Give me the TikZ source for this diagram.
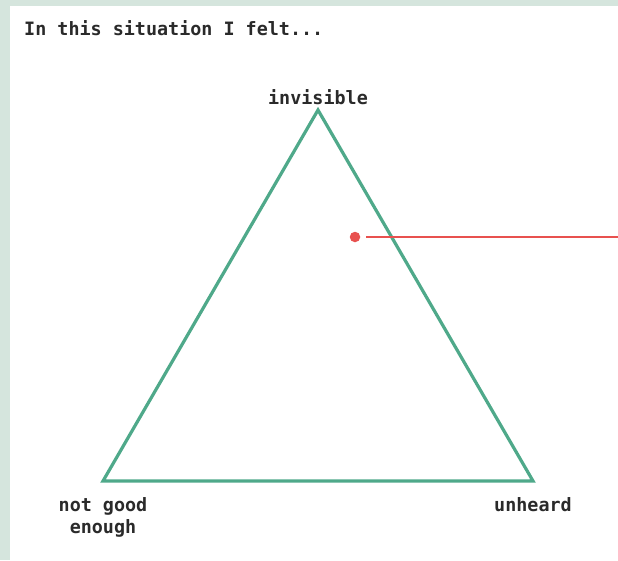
\documentclass[tikz,border=0pt]{standalone}
\usepackage{fontspec}
\setmonofont{DejaVu Sans Mono}
\definecolor{strip}{HTML}{D5E5DD}
\definecolor{tri}{HTML}{4FA98A}
\definecolor{redmark}{HTML}{E8514F}
\definecolor{txt}{HTML}{2A2A2A}
\tikzset{
  lbl/.style={font=\ttfamily\bfseries\fontsize{18.4}{22}\selectfont, text=txt, inner sep=0pt, align=center},
  triline/.style={draw=tri, line width=3.2pt, line join=miter},
}
\begin{document}
\begin{tikzpicture}[x=1pt,y=-1pt]
\useasboundingbox (0,0) rectangle (618,560);
\fill[strip] (0,0) rectangle (618,5.5);
\fill[strip] (0,0) rectangle (9.5,560);
\node[lbl, anchor=west] (title) at (24,28) {In this situation I felt...};
\coordinate (A) at (318,110);
\coordinate (B) at (103,481);
\coordinate (C) at (533,481);
\draw[triline] (A) -- (B) -- (C) -- cycle;
\node[lbl] (inv) at (318,97) {invisible};
\node[lbl] (ngood) at (103,517) {not good\\enough};
\node[lbl] (unh) at (533,505) {unheard};
\node[circle, fill=redmark, minimum size=10.5pt, inner sep=0pt] (dot) at (355,237) {};
\coordinate (lend) at (618,237);
\coordinate (lstart) at (366,237);
\draw[redmark, line width=2.8pt] (lstart) -- (lend);
\end{tikzpicture}
\end{document}
